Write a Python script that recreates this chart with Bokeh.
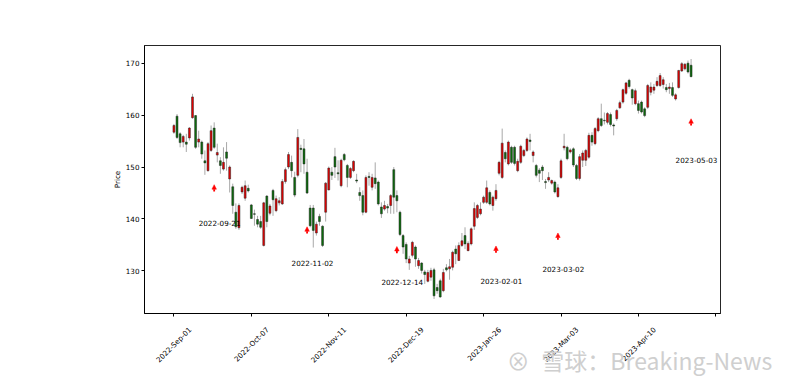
import math
from bokeh.plotting import figure
from bokeh.models import ColumnDataSource, Range1d, FixedTicker, Arrow, NormalHead
from bokeh.embed import file_html
from bokeh.resources import INLINE
from bokeh.core.properties import value

# ---------------- data (trading-day index 0 = 2022-09-01) ----------------
opens = [156.7, 159.8, 156.4, 154.8, 154.8, 155.6, 159.5, 159.9, 154.8, 154.8,
         151.2, 149.3, 153.2, 157.5, 152.3, 151.2, 149.6, 152.9, 147.7, 146.2,
         141.3, 138.3, 145.2, 144.0, 145.9, 142.7, 141.0, 139.9, 139.5, 134.9,
         144.4, 141.1, 145.5, 141.6, 143.1, 142.9, 147.2, 150.0, 150.9, 148.0,
         148.4, 153.6, 153.5, 149.0, 142.1, 142.1, 137.3, 140.5, 138.6, 141.3,
         145.6, 149.0, 152.0, 148.9, 146.4, 152.4, 150.3, 148.0, 149.3, 147.5,
         145.1, 144.5, 141.3, 148.2, 146.1, 147.9, 147.1, 142.3, 141.9, 142.4,
         142.6, 149.5, 144.5, 141.3, 136.8, 135.1, 131.5, 133.0, 134.6, 131.0,
         131.5, 129.8, 128.0, 128.8, 130.2, 126.8, 128.1, 126.2, 130.6, 130.4,
         130.7, 134.2, 132.0, 134.9, 136.8, 133.9, 135.2, 138.6, 140.3, 141.0,
         143.2, 143.2, 145.1, 142.6, 143.9, 148.8, 148.0, 152.8, 150.6, 153.8,
         153.8, 149.3, 150.9, 152.2, 153.2, 155.2, 152.2, 150.3, 149.4, 150.0,
         147.2, 147.5, 146.9, 147.1, 144.3, 148.0, 153.7, 153.8, 152.9, 153.5,
         150.3, 147.8, 151.3, 151.3, 151.9, 156.1, 154.5, 157.0, 159.3, 159.0,
         158.6, 160.1, 158.1, 159.3, 161.4, 162.5, 164.2, 166.7, 164.9, 162.2,
         162.2, 162.5, 161.2, 161.5, 164.4, 164.8, 165.7, 165.7, 165.9, 165.3,
         165.1, 165.3, 163.1, 165.3, 168.5, 168.9, 170.0, 169.6]
highs = [158.3, 160.2, 156.7, 156.2, 156.4, 157.7, 164.1, 160.0, 157.0, 155.1,
         153.2, 154.8, 158.0, 158.6, 154.5, 151.9, 153.8, 154.8, 150.3, 146.8,
         143.0, 143.0, 146.4, 147.4, 146.6, 142.9, 141.8, 140.6, 140.6, 143.3,
         144.6, 142.9, 145.8, 144.5, 144.2, 147.7, 149.9, 152.9, 152.2, 149.1,
         157.3, 154.3, 155.4, 151.6, 142.7, 142.7, 139.5, 141.0, 138.8, 147.1,
         150.1, 150.0, 153.7, 151.3, 151.6, 152.7, 150.6, 150.0, 151.3, 148.7,
         146.1, 145.5, 148.4, 149.0, 148.7, 150.9, 147.4, 143.2, 143.5, 142.9,
         144.8, 150.0, 145.5, 141.6, 137.1, 135.5, 132.9, 135.8, 134.9, 132.5,
         131.7, 130.2, 130.2, 130.6, 130.6, 127.5, 128.5, 130.4, 131.3, 132.3,
         133.9, 134.9, 135.5, 137.3, 138.4, 135.7, 138.4, 143.2, 142.9, 143.2,
         144.5, 147.4, 145.5, 144.5, 146.7, 151.2, 157.4, 153.2, 155.1, 154.1,
         154.1, 151.6, 154.3, 153.5, 155.7, 156.4, 153.2, 150.6, 149.8, 150.4,
         147.7, 149.0, 147.6, 147.4, 146.7, 151.6, 156.4, 154.1, 153.6, 153.8,
         150.6, 152.5, 153.2, 153.5, 156.6, 156.7, 157.7, 159.6, 162.2, 160.5,
         160.6, 160.5, 158.4, 161.2, 162.8, 165.1, 166.4, 167.0, 165.1, 165.1,
         162.8, 162.8, 161.5, 166.0, 166.3, 166.0, 167.3, 168.1, 167.3, 166.0,
         166.2, 166.3, 164.2, 168.7, 170.2, 170.0, 170.5, 170.8]
lows = [156.4, 155.4, 153.8, 153.8, 152.9, 155.1, 159.3, 153.5, 153.8, 151.6,
        148.5, 149.1, 152.9, 153.5, 150.9, 148.7, 149.3, 149.3, 145.1, 141.0,
        138.1, 137.9, 144.8, 143.5, 145.1, 140.0, 138.7, 138.4, 138.1, 134.7,
        138.4, 140.7, 140.6, 141.3, 142.6, 142.7, 146.8, 149.6, 148.0, 144.2,
        148.0, 149.0, 148.7, 144.8, 138.4, 134.5, 136.8, 138.7, 134.6, 139.5,
        145.5, 147.5, 147.9, 147.4, 146.1, 151.1, 146.1, 147.7, 149.0, 146.9,
        143.5, 140.7, 141.1, 146.4, 145.5, 145.8, 142.6, 140.2, 141.6, 141.1,
        141.0, 141.0, 141.3, 136.7, 133.3, 131.5, 130.2, 132.6, 130.8, 130.4,
        129.5, 127.5, 127.8, 128.1, 124.6, 125.6, 124.8, 125.9, 129.9, 128.3,
        130.1, 131.3, 131.9, 134.6, 134.2, 133.8, 134.9, 137.9, 140.0, 140.7,
        142.9, 142.9, 142.6, 141.6, 143.5, 148.4, 147.7, 150.9, 150.3, 150.6,
        150.3, 149.0, 150.6, 151.9, 152.9, 153.2, 150.9, 148.0, 147.1, 147.5,
        145.8, 147.1, 146.6, 144.9, 144.1, 147.7, 153.2, 151.3, 152.6, 150.0,
        147.5, 147.4, 150.0, 150.2, 151.6, 154.1, 154.2, 156.7, 157.7, 158.2,
        158.2, 157.8, 156.1, 158.9, 161.2, 162.2, 163.9, 165.1, 162.0, 161.9,
        160.3, 160.3, 159.6, 161.2, 163.8, 164.1, 165.4, 165.4, 165.1, 164.4,
        164.1, 163.5, 162.8, 165.1, 168.3, 168.6, 168.0, 167.3]
closes = [158.0, 155.7, 154.7, 155.9, 154.4, 157.5, 163.5, 153.8, 155.4, 152.5,
          150.8, 154.5, 157.0, 153.8, 152.8, 150.3, 150.9, 151.7, 150.0, 142.6,
          138.5, 142.6, 146.1, 146.4, 145.4, 140.1, 140.9, 139.0, 138.4, 143.1,
          139.5, 142.5, 143.7, 143.9, 143.5, 147.2, 149.5, 152.4, 149.3, 144.6,
          155.7, 153.4, 150.6, 145.0, 138.7, 137.8, 139.0, 139.5, 134.9, 146.9,
          149.8, 148.4, 150.0, 148.7, 151.3, 151.4, 148.0, 149.7, 151.1, 147.3,
          144.5, 141.3, 148.0, 148.0, 148.0, 146.8, 142.9, 141.0, 142.6, 142.1,
          144.5, 144.2, 143.5, 137.0, 134.6, 132.3, 132.3, 135.5, 132.3, 132.0,
          130.1, 129.3, 129.7, 130.1, 125.2, 126.2, 125.0, 129.7, 130.2, 130.8,
          133.6, 133.3, 134.9, 135.8, 135.2, 135.3, 138.1, 142.0, 142.6, 141.9,
          144.2, 146.0, 142.9, 144.2, 145.5, 150.9, 154.6, 151.6, 154.8, 150.9,
          150.7, 151.1, 154.0, 153.2, 155.4, 154.9, 152.9, 148.4, 148.8, 149.3,
          147.0, 148.0, 147.4, 145.2, 146.0, 151.2, 154.0, 151.6, 153.3, 150.4,
          147.8, 152.0, 152.7, 153.2, 156.1, 154.8, 157.4, 159.3, 158.0, 158.9,
          160.3, 158.2, 157.9, 160.9, 162.4, 164.9, 166.2, 165.5, 163.3, 164.7,
          160.9, 160.6, 159.9, 165.7, 165.4, 165.4, 166.5, 167.6, 166.8, 164.9,
          165.4, 163.8, 163.9, 168.6, 169.9, 169.8, 168.3, 167.4]

tick_pos = [0, 25, 50, 75, 100, 125, 150, 175]
tick_labels = ["2022-Sep-01", "2022-Oct-07", "2022-Nov-11", "2022-Dec-19",
               "2023-Jan-26", "2023-Mar-03", "2023-Apr-10"]
y_ticks = [130, 140, 150, 160, 170]

event_idx = [13, 43, 72, 104, 124, 167]
event_labels = ["2022-09-21", "2022-11-02", "2022-12-14", "2023-02-01",
                "2023-03-02", "2023-05-03"]
arrow_tip = [146.6, 138.5, 134.7, 134.8, 137.3, 159.3]
label_y = [139.3, 131.45, 127.9, 128.1, 130.4, 151.4]

watermark = "⊗\u2002雪球：Breaking-News"

# ---------------- figure ----------------
X0, X1 = -9.5, 176.5
Y0, Y1 = 121.8, 173.4

p = figure(width=800, height=381, output_backend="svg", toolbar_location=None,
           x_range=Range1d(X0, X1), y_range=Range1d(Y0, Y1),
           min_border_left=144, min_border_right=80, min_border_top=45,
           min_border_bottom=68, background_fill_color="white",
           border_fill_color="white")
p.grid.visible = False
p.outline_line_color = "black"
p.outline_line_width = 1
p.outline_line_alpha = 0.85

FONT = "DejaVu Sans"
FS = "7.2px"

# x axis: tick marks as minor ticks at the label dates, rotated labels as major
# ticks placed so each rotated label is centred on its date (matplotlib style)
LAB_SHIFT = 5.25
xa = p.xaxis[0]
lab_pos = [t + LAB_SHIFT for t in tick_pos[:len(tick_labels)]]
xa.ticker = FixedTicker(ticks=lab_pos, minor_ticks=tick_pos)
xa.major_label_overrides = {k: v for k, v in zip(lab_pos, tick_labels)}
xa.major_label_orientation = math.pi / 4
xa.major_label_text_font = FONT
xa.major_label_text_font_size = FS
xa.major_label_text_color = "black"
xa.major_label_standoff = 12
xa.major_tick_line_color = None
xa.major_tick_out = 3
xa.major_tick_in = 0
xa.minor_tick_line_color = "black"
xa.minor_tick_out = 3
xa.minor_tick_in = 0
xa.axis_line_color = "black"
# site watermark below the chart, rendered as the axis caption
xa.axis_label = "\u2003" * 18 + watermark
xa.axis_label_text_font = "Noto Sans CJK SC"
xa.axis_label_text_font_size = "23px"
xa.axis_label_text_font_style = "normal"
xa.axis_label_text_color = "#cfcfcf"
xa.axis_label_standoff = -28

ya = p.yaxis[0]
ya.ticker = FixedTicker(ticks=y_ticks)
ya.minor_tick_line_color = None
ya.major_tick_out = 3
ya.major_tick_in = 0
ya.major_label_text_font = FONT
ya.major_label_text_font_size = FS
ya.major_label_text_color = "black"
ya.major_label_standoff = 2
ya.axis_label = "Price"
ya.axis_label_text_font = FONT
ya.axis_label_text_font_size = FS
ya.axis_label_text_font_style = "normal"
ya.axis_label_text_color = "black"
ya.axis_label_standoff = 1

# ---------------- candles ----------------
idx = list(range(len(opens)))
up = [c >= o for o, c in zip(opens, closes)]
src = ColumnDataSource(dict(
    x=idx, o=opens, h=highs, l=lows, c=closes,
    top=[max(o, c) for o, c in zip(opens, closes)],
    bot=[min(o, c) for o, c in zip(opens, closes)],
    col=["#e60000" if u else "#0b6e0b" for u in up],
))
p.segment(x0="x", y0="l", x1="x", y1="h", source=src, line_color="#a8a8a8", line_width=1)
p.vbar(x="x", width=0.62, top="top", bottom="bot", source=src,
       fill_color="col", line_color="#222222", line_width=0.5)

# ---------------- event arrows and labels ----------------
asrc = ColumnDataSource(dict(
    x=event_idx, y1=arrow_tip, y0=[t - 1.3 for t in arrow_tip],
))
p.add_layout(Arrow(end=NormalHead(size=4.5, fill_color="red", line_color="red", line_width=0.5),
                   x_start="x", y_start="y0", x_end="x", y_end="y1",
                   line_color="red", line_width=1.8, source=asrc))
tsrc = ColumnDataSource(dict(x=[i - 5 for i in event_idx], y=label_y, t=event_labels))
p.text(x="x", y="y", text="t", source=tsrc, text_font=value(FONT), text_font_size=FS,
       text_align="left", text_baseline="middle", text_color="black")

open("out.html", "w").write(file_html(p, INLINE))
